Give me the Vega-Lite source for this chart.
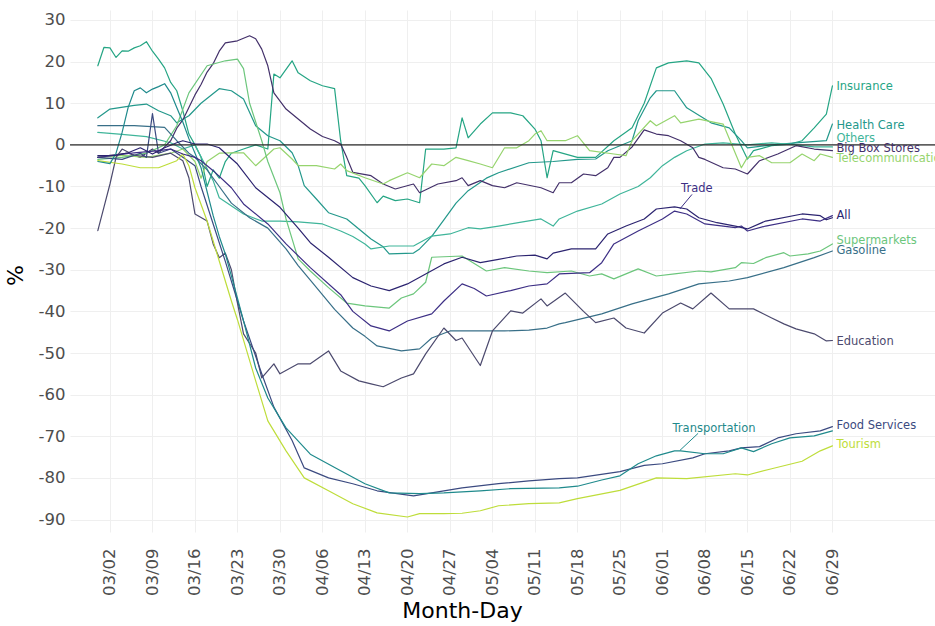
{
  "$schema": "https://vega.github.io/schema/vega-lite/v6.json",
  "width": 865,
  "height": 522,
  "autosize": {"type": "none"},
  "padding": {"left": 70, "top": 10, "right": 0, "bottom": 94},
  "background": "white",
  "config": {"font": "DejaVu Sans", "view": {"stroke": null}},
  "datasets": {
    "series": [
      {"s":"Insurance","d":"2020-02-29","v":19},{"s":"Insurance","d":"2020-03-01","v":23.4},{"s":"Insurance","d":"2020-03-02","v":23.3},{"s":"Insurance","d":"2020-03-03","v":21},{"s":"Insurance","d":"2020-03-04","v":22.6},{"s":"Insurance","d":"2020-03-05","v":22.5},{"s":"Insurance","d":"2020-03-06","v":23.3},{"s":"Insurance","d":"2020-03-07","v":23.8},{"s":"Insurance","d":"2020-03-08","v":24.8},{"s":"Insurance","d":"2020-03-09","v":22.5},{"s":"Insurance","d":"2020-03-10","v":20.6},{"s":"Insurance","d":"2020-03-11","v":18.5},{"s":"Insurance","d":"2020-03-12","v":15},{"s":"Insurance","d":"2020-03-13","v":13},{"s":"Insurance","d":"2020-03-14","v":8.2},{"s":"Insurance","d":"2020-03-15","v":2.6},{"s":"Insurance","d":"2020-03-16","v":0},{"s":"Insurance","d":"2020-03-17","v":-3},{"s":"Insurance","d":"2020-03-18","v":-10},{"s":"Insurance","d":"2020-03-19","v":-6},{"s":"Insurance","d":"2020-03-20","v":-8},{"s":"Insurance","d":"2020-03-21","v":-4},{"s":"Insurance","d":"2020-03-22","v":-2},{"s":"Insurance","d":"2020-03-24","v":-1},{"s":"Insurance","d":"2020-03-26","v":0},{"s":"Insurance","d":"2020-03-28","v":-1},{"s":"Insurance","d":"2020-03-29","v":17},{"s":"Insurance","d":"2020-03-30","v":16.1},{"s":"Insurance","d":"2020-04-01","v":20.2},{"s":"Insurance","d":"2020-04-02","v":17.3},{"s":"Insurance","d":"2020-04-04","v":15.4},{"s":"Insurance","d":"2020-04-06","v":14.2},{"s":"Insurance","d":"2020-04-08","v":13.5},{"s":"Insurance","d":"2020-04-09","v":1},{"s":"Insurance","d":"2020-04-10","v":-7.4},{"s":"Insurance","d":"2020-04-12","v":-8},{"s":"Insurance","d":"2020-04-13","v":-9.8},{"s":"Insurance","d":"2020-04-15","v":-13.9},{"s":"Insurance","d":"2020-04-16","v":-12.3},{"s":"Insurance","d":"2020-04-18","v":-13.4},{"s":"Insurance","d":"2020-04-20","v":-13},{"s":"Insurance","d":"2020-04-22","v":-13.9},{"s":"Insurance","d":"2020-04-23","v":-1},{"s":"Insurance","d":"2020-04-26","v":-1},{"s":"Insurance","d":"2020-04-28","v":-0.7},{"s":"Insurance","d":"2020-04-29","v":6.5},{"s":"Insurance","d":"2020-04-30","v":1.7},{"s":"Insurance","d":"2020-05-02","v":5},{"s":"Insurance","d":"2020-05-04","v":7.7},{"s":"Insurance","d":"2020-05-07","v":7.7},{"s":"Insurance","d":"2020-05-09","v":7},{"s":"Insurance","d":"2020-05-11","v":3.8},{"s":"Insurance","d":"2020-05-12","v":1},{"s":"Insurance","d":"2020-05-13","v":-7.9},{"s":"Insurance","d":"2020-05-14","v":-1.4},{"s":"Insurance","d":"2020-05-18","v":-3},{"s":"Insurance","d":"2020-05-21","v":-3},{"s":"Insurance","d":"2020-05-24","v":1},{"s":"Insurance","d":"2020-05-27","v":4.1},{"s":"Insurance","d":"2020-05-29","v":10},{"s":"Insurance","d":"2020-05-31","v":18.5},{"s":"Insurance","d":"2020-06-02","v":19.7},{"s":"Insurance","d":"2020-06-05","v":20.2},{"s":"Insurance","d":"2020-06-07","v":19.7},{"s":"Insurance","d":"2020-06-09","v":16},{"s":"Insurance","d":"2020-06-11","v":9.8},{"s":"Insurance","d":"2020-06-13","v":2.6},{"s":"Insurance","d":"2020-06-15","v":-3.4},{"s":"Insurance","d":"2020-06-16","v":-1.4},{"s":"Insurance","d":"2020-06-19","v":-0.2},{"s":"Insurance","d":"2020-06-22","v":0.2},{"s":"Insurance","d":"2020-06-24","v":1},{"s":"Insurance","d":"2020-06-26","v":4.1},{"s":"Insurance","d":"2020-06-28","v":7.4},{"s":"Insurance","d":"2020-06-29","v":14.2},

      {"s":"Health Care","d":"2020-02-29","v":6.5},{"s":"Health Care","d":"2020-03-02","v":8.6},{"s":"Health Care","d":"2020-03-06","v":9.5},{"s":"Health Care","d":"2020-03-08","v":9.8},{"s":"Health Care","d":"2020-03-10","v":8.2},{"s":"Health Care","d":"2020-03-12","v":7},{"s":"Health Care","d":"2020-03-13","v":5.3},{"s":"Health Care","d":"2020-03-15","v":7},{"s":"Health Care","d":"2020-03-17","v":10},{"s":"Health Care","d":"2020-03-20","v":13.5},{"s":"Health Care","d":"2020-03-22","v":13},{"s":"Health Care","d":"2020-03-24","v":11},{"s":"Health Care","d":"2020-03-26","v":4.6},{"s":"Health Care","d":"2020-03-28","v":2.2},{"s":"Health Care","d":"2020-03-30","v":1},{"s":"Health Care","d":"2020-04-01","v":-1.9},{"s":"Health Care","d":"2020-04-02","v":-5},{"s":"Health Care","d":"2020-04-03","v":-9.8},{"s":"Health Care","d":"2020-04-05","v":-13},{"s":"Health Care","d":"2020-04-07","v":-16.3},{"s":"Health Care","d":"2020-04-10","v":-17.8},{"s":"Health Care","d":"2020-04-12","v":-20.2},{"s":"Health Care","d":"2020-04-14","v":-22.6},{"s":"Health Care","d":"2020-04-16","v":-24.5},{"s":"Health Care","d":"2020-04-17","v":-26.2},{"s":"Health Care","d":"2020-04-21","v":-26},{"s":"Health Care","d":"2020-04-22","v":-25},{"s":"Health Care","d":"2020-04-24","v":-22},{"s":"Health Care","d":"2020-04-26","v":-18},{"s":"Health Care","d":"2020-04-28","v":-14},{"s":"Health Care","d":"2020-04-30","v":-11},{"s":"Health Care","d":"2020-05-03","v":-8},{"s":"Health Care","d":"2020-05-05","v":-6.7},{"s":"Health Care","d":"2020-05-10","v":-4.3},{"s":"Health Care","d":"2020-05-14","v":-4},{"s":"Health Care","d":"2020-05-18","v":-3.5},{"s":"Health Care","d":"2020-05-21","v":-3.4},{"s":"Health Care","d":"2020-05-23","v":-1.4},{"s":"Health Care","d":"2020-05-27","v":1},{"s":"Health Care","d":"2020-05-28","v":5.8},{"s":"Health Care","d":"2020-05-30","v":11.3},{"s":"Health Care","d":"2020-05-31","v":13},{"s":"Health Care","d":"2020-06-03","v":13},{"s":"Health Care","d":"2020-06-05","v":8.9},{"s":"Health Care","d":"2020-06-09","v":5.3},{"s":"Health Care","d":"2020-06-12","v":4.1},{"s":"Health Care","d":"2020-06-14","v":1},{"s":"Health Care","d":"2020-06-15","v":-0.7},{"s":"Health Care","d":"2020-06-19","v":0},{"s":"Health Care","d":"2020-06-23","v":0.5},{"s":"Health Care","d":"2020-06-28","v":1},{"s":"Health Care","d":"2020-06-29","v":5},

      {"s":"Others","d":"2020-02-29","v":3},{"s":"Others","d":"2020-03-04","v":2.5},{"s":"Others","d":"2020-03-08","v":2},{"s":"Others","d":"2020-03-12","v":0.5},{"s":"Others","d":"2020-03-14","v":-1},{"s":"Others","d":"2020-03-16","v":0},{"s":"Others","d":"2020-03-19","v":-8.6},{"s":"Others","d":"2020-03-20","v":-12.7},{"s":"Others","d":"2020-03-24","v":-16.6},{"s":"Others","d":"2020-03-27","v":-18.3},{"s":"Others","d":"2020-03-30","v":-18.3},{"s":"Others","d":"2020-04-02","v":-18.5},{"s":"Others","d":"2020-04-06","v":-19},{"s":"Others","d":"2020-04-09","v":-20.7},{"s":"Others","d":"2020-04-11","v":-22},{"s":"Others","d":"2020-04-13","v":-23.8},{"s":"Others","d":"2020-04-14","v":-25},{"s":"Others","d":"2020-04-17","v":-24.3},{"s":"Others","d":"2020-04-21","v":-24.3},{"s":"Others","d":"2020-04-24","v":-21.9},{"s":"Others","d":"2020-04-27","v":-21.4},{"s":"Others","d":"2020-04-30","v":-19.9},{"s":"Others","d":"2020-05-02","v":-20.2},{"s":"Others","d":"2020-05-05","v":-19.5},{"s":"Others","d":"2020-05-09","v":-18.5},{"s":"Others","d":"2020-05-12","v":-17.8},{"s":"Others","d":"2020-05-14","v":-19.5},{"s":"Others","d":"2020-05-15","v":-17.8},{"s":"Others","d":"2020-05-18","v":-15.9},{"s":"Others","d":"2020-05-22","v":-14.2},{"s":"Others","d":"2020-05-25","v":-11.8},{"s":"Others","d":"2020-05-28","v":-10},{"s":"Others","d":"2020-05-30","v":-7.9},{"s":"Others","d":"2020-06-01","v":-5},{"s":"Others","d":"2020-06-03","v":-3},{"s":"Others","d":"2020-06-05","v":-1.4},{"s":"Others","d":"2020-06-08","v":0.2},{"s":"Others","d":"2020-06-11","v":0.5},{"s":"Others","d":"2020-06-15","v":0},{"s":"Others","d":"2020-06-19","v":0.5},{"s":"Others","d":"2020-06-23","v":0},{"s":"Others","d":"2020-06-26","v":-0.5},{"s":"Others","d":"2020-06-29","v":-0.5},

      {"s":"Big Box Stores","d":"2020-02-29","v":-3},{"s":"Big Box Stores","d":"2020-03-02","v":-2.5},{"s":"Big Box Stores","d":"2020-03-05","v":-2},{"s":"Big Box Stores","d":"2020-03-07","v":-3},{"s":"Big Box Stores","d":"2020-03-09","v":-1},{"s":"Big Box Stores","d":"2020-03-10","v":-2},{"s":"Big Box Stores","d":"2020-03-11","v":-0.5},{"s":"Big Box Stores","d":"2020-03-12","v":1},{"s":"Big Box Stores","d":"2020-03-13","v":4},{"s":"Big Box Stores","d":"2020-03-14","v":6},{"s":"Big Box Stores","d":"2020-03-15","v":9},{"s":"Big Box Stores","d":"2020-03-16","v":12},{"s":"Big Box Stores","d":"2020-03-17","v":14.5},{"s":"Big Box Stores","d":"2020-03-18","v":17.5},{"s":"Big Box Stores","d":"2020-03-19","v":19.5},{"s":"Big Box Stores","d":"2020-03-20","v":22.5},{"s":"Big Box Stores","d":"2020-03-21","v":24.5},{"s":"Big Box Stores","d":"2020-03-23","v":25},{"s":"Big Box Stores","d":"2020-03-25","v":26.2},{"s":"Big Box Stores","d":"2020-03-26","v":25.5},{"s":"Big Box Stores","d":"2020-03-27","v":23},{"s":"Big Box Stores","d":"2020-03-28","v":19},{"s":"Big Box Stores","d":"2020-03-29","v":12.5},{"s":"Big Box Stores","d":"2020-03-31","v":8.6},{"s":"Big Box Stores","d":"2020-04-02","v":6.2},{"s":"Big Box Stores","d":"2020-04-04","v":3.8},{"s":"Big Box Stores","d":"2020-04-06","v":2},{"s":"Big Box Stores","d":"2020-04-08","v":1},{"s":"Big Box Stores","d":"2020-04-09","v":0.2},{"s":"Big Box Stores","d":"2020-04-10","v":-3},{"s":"Big Box Stores","d":"2020-04-11","v":-6.6},{"s":"Big Box Stores","d":"2020-04-14","v":-7.4},{"s":"Big Box Stores","d":"2020-04-16","v":-9.4},{"s":"Big Box Stores","d":"2020-04-18","v":-10.6},{"s":"Big Box Stores","d":"2020-04-21","v":-9.4},{"s":"Big Box Stores","d":"2020-04-22","v":-11.5},{"s":"Big Box Stores","d":"2020-04-25","v":-9.4},{"s":"Big Box Stores","d":"2020-04-28","v":-8.6},{"s":"Big Box Stores","d":"2020-04-29","v":-7.9},{"s":"Big Box Stores","d":"2020-04-30","v":-9.8},{"s":"Big Box Stores","d":"2020-05-02","v":-8.6},{"s":"Big Box Stores","d":"2020-05-04","v":-9.8},{"s":"Big Box Stores","d":"2020-05-06","v":-10.3},{"s":"Big Box Stores","d":"2020-05-08","v":-9.1},{"s":"Big Box Stores","d":"2020-05-12","v":-10.3},{"s":"Big Box Stores","d":"2020-05-14","v":-11.5},{"s":"Big Box Stores","d":"2020-05-15","v":-9.1},{"s":"Big Box Stores","d":"2020-05-17","v":-9.1},{"s":"Big Box Stores","d":"2020-05-19","v":-7},{"s":"Big Box Stores","d":"2020-05-21","v":-7.4},{"s":"Big Box Stores","d":"2020-05-23","v":-5.5},{"s":"Big Box Stores","d":"2020-05-24","v":-3},{"s":"Big Box Stores","d":"2020-05-25","v":-3},{"s":"Big Box Stores","d":"2020-05-27","v":-0.5},{"s":"Big Box Stores","d":"2020-05-29","v":3.6},{"s":"Big Box Stores","d":"2020-05-31","v":2.6},{"s":"Big Box Stores","d":"2020-06-02","v":2.2},{"s":"Big Box Stores","d":"2020-06-04","v":1},{"s":"Big Box Stores","d":"2020-06-06","v":-0.7},{"s":"Big Box Stores","d":"2020-06-07","v":-3},{"s":"Big Box Stores","d":"2020-06-08","v":-3.5},{"s":"Big Box Stores","d":"2020-06-11","v":-5.5},{"s":"Big Box Stores","d":"2020-06-13","v":-5.8},{"s":"Big Box Stores","d":"2020-06-15","v":-7},{"s":"Big Box Stores","d":"2020-06-17","v":-3.8},{"s":"Big Box Stores","d":"2020-06-20","v":-2.2},{"s":"Big Box Stores","d":"2020-06-23","v":-0.2},{"s":"Big Box Stores","d":"2020-06-26","v":-1},{"s":"Big Box Stores","d":"2020-06-29","v":-1.4},

      {"s":"Telecommunications","d":"2020-02-29","v":-3},{"s":"Telecommunications","d":"2020-03-04","v":-2.5},{"s":"Telecommunications","d":"2020-03-08","v":-3},{"s":"Telecommunications","d":"2020-03-12","v":-2},{"s":"Telecommunications","d":"2020-03-14","v":-1},{"s":"Telecommunications","d":"2020-03-16","v":-4},{"s":"Telecommunications","d":"2020-03-17","v":-8},{"s":"Telecommunications","d":"2020-03-18","v":-4},{"s":"Telecommunications","d":"2020-03-20","v":-2},{"s":"Telecommunications","d":"2020-03-22","v":-1.9},{"s":"Telecommunications","d":"2020-03-24","v":-1.9},{"s":"Telecommunications","d":"2020-03-26","v":-5},{"s":"Telecommunications","d":"2020-03-29","v":-1},{"s":"Telecommunications","d":"2020-03-30","v":-0.7},{"s":"Telecommunications","d":"2020-04-01","v":-3.4},{"s":"Telecommunications","d":"2020-04-02","v":-5},{"s":"Telecommunications","d":"2020-04-05","v":-5},{"s":"Telecommunications","d":"2020-04-08","v":-5.8},{"s":"Telecommunications","d":"2020-04-09","v":-4.6},{"s":"Telecommunications","d":"2020-04-10","v":-6.2},{"s":"Telecommunications","d":"2020-04-13","v":-7.9},{"s":"Telecommunications","d":"2020-04-16","v":-9.4},{"s":"Telecommunications","d":"2020-04-17","v":-8.6},{"s":"Telecommunications","d":"2020-04-20","v":-6.7},{"s":"Telecommunications","d":"2020-04-22","v":-7.9},{"s":"Telecommunications","d":"2020-04-24","v":-4.6},{"s":"Telecommunications","d":"2020-04-26","v":-5},{"s":"Telecommunications","d":"2020-04-28","v":-3},{"s":"Telecommunications","d":"2020-04-30","v":-3.8},{"s":"Telecommunications","d":"2020-05-02","v":-4.6},{"s":"Telecommunications","d":"2020-05-04","v":-5.5},{"s":"Telecommunications","d":"2020-05-06","v":-0.7},{"s":"Telecommunications","d":"2020-05-08","v":-0.7},{"s":"Telecommunications","d":"2020-05-10","v":1},{"s":"Telecommunications","d":"2020-05-11","v":2.6},{"s":"Telecommunications","d":"2020-05-12","v":3.4},{"s":"Telecommunications","d":"2020-05-13","v":1},{"s":"Telecommunications","d":"2020-05-16","v":1},{"s":"Telecommunications","d":"2020-05-18","v":2.2},{"s":"Telecommunications","d":"2020-05-20","v":-1.4},{"s":"Telecommunications","d":"2020-05-24","v":-2.2},{"s":"Telecommunications","d":"2020-05-26","v":-2.6},{"s":"Telecommunications","d":"2020-05-27","v":1},{"s":"Telecommunications","d":"2020-05-30","v":5.8},{"s":"Telecommunications","d":"2020-05-31","v":4.6},{"s":"Telecommunications","d":"2020-06-03","v":7},{"s":"Telecommunications","d":"2020-06-04","v":5.3},{"s":"Telecommunications","d":"2020-06-07","v":6.2},{"s":"Telecommunications","d":"2020-06-11","v":5},{"s":"Telecommunications","d":"2020-06-14","v":-5.5},{"s":"Telecommunications","d":"2020-06-15","v":-3},{"s":"Telecommunications","d":"2020-06-17","v":-2.6},{"s":"Telecommunications","d":"2020-06-19","v":-4.3},{"s":"Telecommunications","d":"2020-06-22","v":-4.3},{"s":"Telecommunications","d":"2020-06-24","v":-2.2},{"s":"Telecommunications","d":"2020-06-26","v":-3.8},{"s":"Telecommunications","d":"2020-06-27","v":-2.2},{"s":"Telecommunications","d":"2020-06-29","v":-3},

      {"s":"Supermarkets","d":"2020-02-29","v":-3.5},{"s":"Supermarkets","d":"2020-03-04","v":-3},{"s":"Supermarkets","d":"2020-03-08","v":-2},{"s":"Supermarkets","d":"2020-03-11","v":0},{"s":"Supermarkets","d":"2020-03-13","v":4.6},{"s":"Supermarkets","d":"2020-03-15","v":12.5},{"s":"Supermarkets","d":"2020-03-18","v":19},{"s":"Supermarkets","d":"2020-03-21","v":20.2},{"s":"Supermarkets","d":"2020-03-23","v":20.6},{"s":"Supermarkets","d":"2020-03-24","v":18.3},{"s":"Supermarkets","d":"2020-03-25","v":10},{"s":"Supermarkets","d":"2020-03-27","v":1},{"s":"Supermarkets","d":"2020-03-28","v":-4},{"s":"Supermarkets","d":"2020-03-30","v":-11.5},{"s":"Supermarkets","d":"2020-03-31","v":-17.8},{"s":"Supermarkets","d":"2020-04-01","v":-22.6},{"s":"Supermarkets","d":"2020-04-02","v":-27.4},{"s":"Supermarkets","d":"2020-04-04","v":-30.3},{"s":"Supermarkets","d":"2020-04-07","v":-34.3},{"s":"Supermarkets","d":"2020-04-10","v":-38},{"s":"Supermarkets","d":"2020-04-13","v":-38.7},{"s":"Supermarkets","d":"2020-04-17","v":-39.2},{"s":"Supermarkets","d":"2020-04-19","v":-36.8},{"s":"Supermarkets","d":"2020-04-21","v":-35.8},{"s":"Supermarkets","d":"2020-04-23","v":-33},{"s":"Supermarkets","d":"2020-04-24","v":-27},{"s":"Supermarkets","d":"2020-04-29","v":-26.7},{"s":"Supermarkets","d":"2020-05-03","v":-30.3},{"s":"Supermarkets","d":"2020-05-06","v":-29.5},{"s":"Supermarkets","d":"2020-05-10","v":-30.3},{"s":"Supermarkets","d":"2020-05-13","v":-30.7},{"s":"Supermarkets","d":"2020-05-17","v":-30.3},{"s":"Supermarkets","d":"2020-05-20","v":-31.5},{"s":"Supermarkets","d":"2020-05-22","v":-31},{"s":"Supermarkets","d":"2020-05-24","v":-32.2},{"s":"Supermarkets","d":"2020-05-28","v":-29.8},{"s":"Supermarkets","d":"2020-05-31","v":-31.5},{"s":"Supermarkets","d":"2020-06-03","v":-31},{"s":"Supermarkets","d":"2020-06-07","v":-30.3},{"s":"Supermarkets","d":"2020-06-09","v":-30.5},{"s":"Supermarkets","d":"2020-06-13","v":-29.5},{"s":"Supermarkets","d":"2020-06-14","v":-28.3},{"s":"Supermarkets","d":"2020-06-16","v":-28.5},{"s":"Supermarkets","d":"2020-06-18","v":-27.1},{"s":"Supermarkets","d":"2020-06-21","v":-25.9},{"s":"Supermarkets","d":"2020-06-22","v":-26.7},{"s":"Supermarkets","d":"2020-06-25","v":-26.2},{"s":"Supermarkets","d":"2020-06-27","v":-25.5},{"s":"Supermarkets","d":"2020-06-29","v":-23.8},

      {"s":"Gasoline","d":"2020-02-29","v":4.6},{"s":"Gasoline","d":"2020-03-06","v":4.6},{"s":"Gasoline","d":"2020-03-11","v":4.2},{"s":"Gasoline","d":"2020-03-13","v":1},{"s":"Gasoline","d":"2020-03-15","v":-2},{"s":"Gasoline","d":"2020-03-16","v":-3},{"s":"Gasoline","d":"2020-03-18","v":-6},{"s":"Gasoline","d":"2020-03-20","v":-10},{"s":"Gasoline","d":"2020-03-22","v":-14},{"s":"Gasoline","d":"2020-03-25","v":-17.5},{"s":"Gasoline","d":"2020-03-28","v":-20},{"s":"Gasoline","d":"2020-03-31","v":-25},{"s":"Gasoline","d":"2020-04-02","v":-29},{"s":"Gasoline","d":"2020-04-04","v":-32.5},{"s":"Gasoline","d":"2020-04-08","v":-39.5},{"s":"Gasoline","d":"2020-04-11","v":-44},{"s":"Gasoline","d":"2020-04-13","v":-46},{"s":"Gasoline","d":"2020-04-15","v":-48.3},{"s":"Gasoline","d":"2020-04-19","v":-49.5},{"s":"Gasoline","d":"2020-04-22","v":-49},{"s":"Gasoline","d":"2020-04-24","v":-46.4},{"s":"Gasoline","d":"2020-04-27","v":-44.7},{"s":"Gasoline","d":"2020-05-02","v":-44.7},{"s":"Gasoline","d":"2020-05-06","v":-44.7},{"s":"Gasoline","d":"2020-05-10","v":-44.5},{"s":"Gasoline","d":"2020-05-13","v":-44},{"s":"Gasoline","d":"2020-05-15","v":-43},{"s":"Gasoline","d":"2020-05-16","v":-42.7},{"s":"Gasoline","d":"2020-05-22","v":-40.6},{"s":"Gasoline","d":"2020-05-27","v":-38.2},{"s":"Gasoline","d":"2020-06-02","v":-35.8},{"s":"Gasoline","d":"2020-06-07","v":-33.4},{"s":"Gasoline","d":"2020-06-12","v":-32.7},{"s":"Gasoline","d":"2020-06-15","v":-31.9},{"s":"Gasoline","d":"2020-06-21","v":-29.5},{"s":"Gasoline","d":"2020-06-26","v":-27.1},{"s":"Gasoline","d":"2020-06-29","v":-25.5},

      {"s":"Education","d":"2020-02-29","v":-20.6},{"s":"Education","d":"2020-03-01","v":-15},{"s":"Education","d":"2020-03-02","v":-9.4},{"s":"Education","d":"2020-03-03","v":-3},{"s":"Education","d":"2020-03-04","v":-1},{"s":"Education","d":"2020-03-06","v":-2.5},{"s":"Education","d":"2020-03-09","v":-3},{"s":"Education","d":"2020-03-12","v":-2},{"s":"Education","d":"2020-03-14","v":-3.8},{"s":"Education","d":"2020-03-15","v":-7.9},{"s":"Education","d":"2020-03-16","v":-16.6},{"s":"Education","d":"2020-03-18","v":-18.3},{"s":"Education","d":"2020-03-19","v":-23.8},{"s":"Education","d":"2020-03-20","v":-27.1},{"s":"Education","d":"2020-03-21","v":-26},{"s":"Education","d":"2020-03-22","v":-30},{"s":"Education","d":"2020-03-23","v":-38},{"s":"Education","d":"2020-03-24","v":-45.4},{"s":"Education","d":"2020-03-26","v":-50},{"s":"Education","d":"2020-03-27","v":-56},{"s":"Education","d":"2020-03-29","v":-52.6},{"s":"Education","d":"2020-03-30","v":-55},{"s":"Education","d":"2020-04-02","v":-52.6},{"s":"Education","d":"2020-04-04","v":-52.6},{"s":"Education","d":"2020-04-07","v":-49.5},{"s":"Education","d":"2020-04-09","v":-54.3},{"s":"Education","d":"2020-04-12","v":-56.7},{"s":"Education","d":"2020-04-14","v":-57.4},{"s":"Education","d":"2020-04-16","v":-58.1},{"s":"Education","d":"2020-04-19","v":-56},{"s":"Education","d":"2020-04-21","v":-55},{"s":"Education","d":"2020-04-23","v":-50.2},{"s":"Education","d":"2020-04-26","v":-44},{"s":"Education","d":"2020-04-28","v":-47},{"s":"Education","d":"2020-04-29","v":-46.4},{"s":"Education","d":"2020-05-02","v":-53},{"s":"Education","d":"2020-05-04","v":-44.7},{"s":"Education","d":"2020-05-07","v":-39.9},{"s":"Education","d":"2020-05-09","v":-40.4},{"s":"Education","d":"2020-05-12","v":-37},{"s":"Education","d":"2020-05-13","v":-38.7},{"s":"Education","d":"2020-05-16","v":-35.6},{"s":"Education","d":"2020-05-19","v":-40},{"s":"Education","d":"2020-05-21","v":-42.7},{"s":"Education","d":"2020-05-24","v":-41.6},{"s":"Education","d":"2020-05-26","v":-44},{"s":"Education","d":"2020-05-29","v":-45.2},{"s":"Education","d":"2020-06-01","v":-40.4},{"s":"Education","d":"2020-06-04","v":-38},{"s":"Education","d":"2020-06-06","v":-39.4},{"s":"Education","d":"2020-06-09","v":-35.6},{"s":"Education","d":"2020-06-12","v":-39.4},{"s":"Education","d":"2020-06-16","v":-39.4},{"s":"Education","d":"2020-06-19","v":-41.6},{"s":"Education","d":"2020-06-21","v":-43},{"s":"Education","d":"2020-06-23","v":-44.2},{"s":"Education","d":"2020-06-26","v":-45.4},{"s":"Education","d":"2020-06-28","v":-47.1},{"s":"Education","d":"2020-06-29","v":-47},

      {"s":"Food Services","d":"2020-02-29","v":-3},{"s":"Food Services","d":"2020-03-04","v":-3.5},{"s":"Food Services","d":"2020-03-07","v":-2},{"s":"Food Services","d":"2020-03-08","v":-3},{"s":"Food Services","d":"2020-03-09","v":7.5},{"s":"Food Services","d":"2020-03-10","v":-2},{"s":"Food Services","d":"2020-03-12","v":-1},{"s":"Food Services","d":"2020-03-14","v":-3},{"s":"Food Services","d":"2020-03-16","v":-5},{"s":"Food Services","d":"2020-03-17","v":-10},{"s":"Food Services","d":"2020-03-19","v":-19},{"s":"Food Services","d":"2020-03-21","v":-28},{"s":"Food Services","d":"2020-03-23","v":-37.5},{"s":"Food Services","d":"2020-03-24","v":-42.3},{"s":"Food Services","d":"2020-03-27","v":-55},{"s":"Food Services","d":"2020-03-29","v":-63},{"s":"Food Services","d":"2020-04-01","v":-71},{"s":"Food Services","d":"2020-04-03","v":-77.6},{"s":"Food Services","d":"2020-04-07","v":-80},{"s":"Food Services","d":"2020-04-11","v":-81.4},{"s":"Food Services","d":"2020-04-15","v":-83.1},{"s":"Food Services","d":"2020-04-21","v":-84.3},{"s":"Food Services","d":"2020-04-24","v":-83.6},{"s":"Food Services","d":"2020-04-29","v":-82.4},{"s":"Food Services","d":"2020-05-05","v":-81.4},{"s":"Food Services","d":"2020-05-10","v":-80.7},{"s":"Food Services","d":"2020-05-15","v":-80.2},{"s":"Food Services","d":"2020-05-18","v":-80},{"s":"Food Services","d":"2020-05-25","v":-78.5},{"s":"Food Services","d":"2020-05-29","v":-77},{"s":"Food Services","d":"2020-06-01","v":-76.6},{"s":"Food Services","d":"2020-06-06","v":-75.2},{"s":"Food Services","d":"2020-06-08","v":-74.2},{"s":"Food Services","d":"2020-06-12","v":-73.5},{"s":"Food Services","d":"2020-06-14","v":-72.8},{"s":"Food Services","d":"2020-06-17","v":-72.5},{"s":"Food Services","d":"2020-06-20","v":-70.4},{"s":"Food Services","d":"2020-06-23","v":-69.4},{"s":"Food Services","d":"2020-06-27","v":-68.7},{"s":"Food Services","d":"2020-06-29","v":-67.7},

      {"s":"Tourism","d":"2020-02-29","v":-3.8},{"s":"Tourism","d":"2020-03-04","v":-4.6},{"s":"Tourism","d":"2020-03-07","v":-5.5},{"s":"Tourism","d":"2020-03-10","v":-5.5},{"s":"Tourism","d":"2020-03-13","v":-3.8},{"s":"Tourism","d":"2020-03-14","v":-2.2},{"s":"Tourism","d":"2020-03-15","v":-5},{"s":"Tourism","d":"2020-03-16","v":-10.3},{"s":"Tourism","d":"2020-03-18","v":-18.3},{"s":"Tourism","d":"2020-03-20","v":-27.9},{"s":"Tourism","d":"2020-03-22","v":-37.5},{"s":"Tourism","d":"2020-03-23","v":-42},{"s":"Tourism","d":"2020-03-26","v":-56.7},{"s":"Tourism","d":"2020-03-28","v":-66.3},{"s":"Tourism","d":"2020-03-31","v":-73.5},{"s":"Tourism","d":"2020-04-03","v":-80},{"s":"Tourism","d":"2020-04-07","v":-83.1},{"s":"Tourism","d":"2020-04-11","v":-86.2},{"s":"Tourism","d":"2020-04-15","v":-88.4},{"s":"Tourism","d":"2020-04-20","v":-89.4},{"s":"Tourism","d":"2020-04-22","v":-88.6},{"s":"Tourism","d":"2020-04-26","v":-88.6},{"s":"Tourism","d":"2020-04-29","v":-88.5},{"s":"Tourism","d":"2020-05-02","v":-87.9},{"s":"Tourism","d":"2020-05-05","v":-86.7},{"s":"Tourism","d":"2020-05-10","v":-86.2},{"s":"Tourism","d":"2020-05-15","v":-86},{"s":"Tourism","d":"2020-05-18","v":-85},{"s":"Tourism","d":"2020-05-25","v":-83},{"s":"Tourism","d":"2020-05-31","v":-80},{"s":"Tourism","d":"2020-06-05","v":-80.2},{"s":"Tourism","d":"2020-06-13","v":-79},{"s":"Tourism","d":"2020-06-15","v":-79.3},{"s":"Tourism","d":"2020-06-19","v":-77.8},{"s":"Tourism","d":"2020-06-24","v":-76},{"s":"Tourism","d":"2020-06-27","v":-73.5},{"s":"Tourism","d":"2020-06-29","v":-72.3},

      {"s":"Transportation","d":"2020-02-29","v":-4},{"s":"Transportation","d":"2020-03-02","v":-4.5},{"s":"Transportation","d":"2020-03-03","v":-2},{"s":"Transportation","d":"2020-03-04","v":3},{"s":"Transportation","d":"2020-03-05","v":9},{"s":"Transportation","d":"2020-03-06","v":13},{"s":"Transportation","d":"2020-03-07","v":13.7},{"s":"Transportation","d":"2020-03-08","v":12.5},{"s":"Transportation","d":"2020-03-09","v":13.4},{"s":"Transportation","d":"2020-03-10","v":14},{"s":"Transportation","d":"2020-03-11","v":14.7},{"s":"Transportation","d":"2020-03-12","v":12.5},{"s":"Transportation","d":"2020-03-13","v":9},{"s":"Transportation","d":"2020-03-14","v":5.5},{"s":"Transportation","d":"2020-03-15","v":1.5},{"s":"Transportation","d":"2020-03-17","v":-5.5},{"s":"Transportation","d":"2020-03-19","v":-17},{"s":"Transportation","d":"2020-03-20","v":-22},{"s":"Transportation","d":"2020-03-21","v":-26.2},{"s":"Transportation","d":"2020-03-23","v":-36.8},{"s":"Transportation","d":"2020-03-24","v":-42.3},{"s":"Transportation","d":"2020-03-26","v":-53.6},{"s":"Transportation","d":"2020-03-28","v":-60.8},{"s":"Transportation","d":"2020-03-31","v":-68},{"s":"Transportation","d":"2020-04-04","v":-74.3},{"s":"Transportation","d":"2020-04-09","v":-78.3},{"s":"Transportation","d":"2020-04-13","v":-81.4},{"s":"Transportation","d":"2020-04-17","v":-83.6},{"s":"Transportation","d":"2020-04-22","v":-83.8},{"s":"Transportation","d":"2020-04-26","v":-83.6},{"s":"Transportation","d":"2020-05-02","v":-83.1},{"s":"Transportation","d":"2020-05-07","v":-82.6},{"s":"Transportation","d":"2020-05-15","v":-82.4},{"s":"Transportation","d":"2020-05-18","v":-82},{"s":"Transportation","d":"2020-05-22","v":-80.5},{"s":"Transportation","d":"2020-05-25","v":-79.5},{"s":"Transportation","d":"2020-05-28","v":-76.6},{"s":"Transportation","d":"2020-05-31","v":-74.7},{"s":"Transportation","d":"2020-06-03","v":-73.5},{"s":"Transportation","d":"2020-06-04","v":-73.5},{"s":"Transportation","d":"2020-06-08","v":-74.2},{"s":"Transportation","d":"2020-06-11","v":-74.2},{"s":"Transportation","d":"2020-06-14","v":-72.8},{"s":"Transportation","d":"2020-06-16","v":-73.7},{"s":"Transportation","d":"2020-06-19","v":-71.8},{"s":"Transportation","d":"2020-06-22","v":-70.4},{"s":"Transportation","d":"2020-06-26","v":-69.9},{"s":"Transportation","d":"2020-06-29","v":-68.7},

      {"s":"Trade","d":"2020-02-29","v":-3},{"s":"Trade","d":"2020-03-03","v":-2.5},{"s":"Trade","d":"2020-03-06","v":-1.9},{"s":"Trade","d":"2020-03-10","v":-1.4},{"s":"Trade","d":"2020-03-12","v":-1},{"s":"Trade","d":"2020-03-14","v":-2.2},{"s":"Trade","d":"2020-03-16","v":-3},{"s":"Trade","d":"2020-03-17","v":-3.8},{"s":"Trade","d":"2020-03-19","v":-6.2},{"s":"Trade","d":"2020-03-22","v":-10.3},{"s":"Trade","d":"2020-03-24","v":-14.2},{"s":"Trade","d":"2020-03-28","v":-19},{"s":"Trade","d":"2020-03-31","v":-23.8},{"s":"Trade","d":"2020-04-04","v":-29.5},{"s":"Trade","d":"2020-04-09","v":-36},{"s":"Trade","d":"2020-04-11","v":-40},{"s":"Trade","d":"2020-04-14","v":-43.5},{"s":"Trade","d":"2020-04-17","v":-44.7},{"s":"Trade","d":"2020-04-20","v":-42.3},{"s":"Trade","d":"2020-04-24","v":-40.6},{"s":"Trade","d":"2020-04-26","v":-37.5},{"s":"Trade","d":"2020-04-29","v":-33.4},{"s":"Trade","d":"2020-05-01","v":-34.5},{"s":"Trade","d":"2020-05-03","v":-36.3},{"s":"Trade","d":"2020-05-07","v":-35},{"s":"Trade","d":"2020-05-10","v":-33.9},{"s":"Trade","d":"2020-05-13","v":-33.4},{"s":"Trade","d":"2020-05-15","v":-31},{"s":"Trade","d":"2020-05-20","v":-30.7},{"s":"Trade","d":"2020-05-22","v":-28.3},{"s":"Trade","d":"2020-05-24","v":-23.8},{"s":"Trade","d":"2020-05-28","v":-20.7},{"s":"Trade","d":"2020-06-01","v":-17.8},{"s":"Trade","d":"2020-06-03","v":-15.9},{"s":"Trade","d":"2020-06-05","v":-16.6},{"s":"Trade","d":"2020-06-08","v":-19},{"s":"Trade","d":"2020-06-13","v":-19.9},{"s":"Trade","d":"2020-06-14","v":-19.5},{"s":"Trade","d":"2020-06-15","v":-20.7},{"s":"Trade","d":"2020-06-18","v":-19.5},{"s":"Trade","d":"2020-06-24","v":-17.8},{"s":"Trade","d":"2020-06-27","v":-18.3},{"s":"Trade","d":"2020-06-29","v":-17},

      {"s":"All","d":"2020-02-29","v":-2.6},{"s":"All","d":"2020-03-03","v":-2.5},{"s":"All","d":"2020-03-05","v":-1.9},{"s":"All","d":"2020-03-07","v":-0.7},{"s":"All","d":"2020-03-09","v":-2.2},{"s":"All","d":"2020-03-11","v":-0.7},{"s":"All","d":"2020-03-13","v":0.5},{"s":"All","d":"2020-03-14","v":1},{"s":"All","d":"2020-03-16","v":0.2},{"s":"All","d":"2020-03-18","v":0.2},{"s":"All","d":"2020-03-20","v":-0.7},{"s":"All","d":"2020-03-23","v":-4.6},{"s":"All","d":"2020-03-26","v":-10.3},{"s":"All","d":"2020-03-30","v":-15},{"s":"All","d":"2020-04-02","v":-20},{"s":"All","d":"2020-04-04","v":-23.5},{"s":"All","d":"2020-04-07","v":-27},{"s":"All","d":"2020-04-11","v":-31.9},{"s":"All","d":"2020-04-14","v":-33.9},{"s":"All","d":"2020-04-17","v":-35},{"s":"All","d":"2020-04-20","v":-33.4},{"s":"All","d":"2020-04-23","v":-31},{"s":"All","d":"2020-04-26","v":-28.6},{"s":"All","d":"2020-04-29","v":-27},{"s":"All","d":"2020-05-02","v":-28.3},{"s":"All","d":"2020-05-05","v":-27.5},{"s":"All","d":"2020-05-08","v":-26.7},{"s":"All","d":"2020-05-11","v":-26.5},{"s":"All","d":"2020-05-13","v":-27.4},{"s":"All","d":"2020-05-14","v":-26},{"s":"All","d":"2020-05-17","v":-25},{"s":"All","d":"2020-05-21","v":-25},{"s":"All","d":"2020-05-23","v":-21.4},{"s":"All","d":"2020-05-26","v":-19.5},{"s":"All","d":"2020-05-29","v":-17.8},{"s":"All","d":"2020-05-31","v":-15.4},{"s":"All","d":"2020-06-03","v":-14.9},{"s":"All","d":"2020-06-05","v":-15.4},{"s":"All","d":"2020-06-07","v":-17.5},{"s":"All","d":"2020-06-10","v":-18.7},{"s":"All","d":"2020-06-13","v":-19.5},{"s":"All","d":"2020-06-15","v":-20.2},{"s":"All","d":"2020-06-18","v":-18.3},{"s":"All","d":"2020-06-24","v":-16.6},{"s":"All","d":"2020-06-27","v":-17},{"s":"All","d":"2020-06-28","v":-18},{"s":"All","d":"2020-06-29","v":-17.5}
    ],
    "labels": [
      {"s":"Insurance","t":"Insurance","d":"2020-06-29","v":13.9},
      {"s":"Health Care","t":"Health Care","d":"2020-06-29","v":4.6},
      {"s":"Others","t":"Others","d":"2020-06-29","v":1.4},
      {"s":"Big Box Stores","t":"Big Box Stores","d":"2020-06-29","v":-1.1},
      {"s":"Telecommunications","t":"Telecommunications","d":"2020-06-29","v":-3.5},
      {"s":"All","t":"All","d":"2020-06-29","v":-17.1},
      {"s":"Supermarkets","t":"Supermarkets","d":"2020-06-29","v":-23.1},
      {"s":"Gasoline","t":"Gasoline","d":"2020-06-29","v":-25.5},
      {"s":"Education","t":"Education","d":"2020-06-29","v":-47.3},
      {"s":"Food Services","t":"Food Services","d":"2020-06-29","v":-67.5},
      {"s":"Tourism","t":"Tourism","d":"2020-06-29","v":-72},
      {"s":"Trade","t":"Trade","d":"2020-06-06T16:00:00Z","v":-10.6},
      {"s":"Transportation","t":"Transportation","d":"2020-06-09T12:00:00Z","v":-68.2}
    ],
    "leaders": [
      {"s":"Trade","d":"2020-06-05T21:00:00Z","v":-11.9,"d2":"2020-06-03T21:00:00Z","v2":-15.4},
      {"s":"Transportation","d":"2020-06-06T21:00:00Z","v":-69.3,"d2":"2020-06-03T21:00:00Z","v2":-73.4}
    ]
  },
  "layer": [
    {
      "data": {"name": "series"},
      "mark": {"type": "line", "strokeJoin": "round", "strokeCap": "round"},
      "encoding": {
        "x": {
          "field": "d",
          "type": "temporal",
          "scale": {
            "type": "utc",
            "domain": [
              {"year": 2020, "month": 2, "date": 24, "hours": 10, "utc": true},
              {"year": 2020, "month": 7, "date": 15, "hours": 21, "minutes": 30, "utc": true}
            ]
          },
          "axis": {
            "values": [
              {"year": 2020, "month": 3, "date": 2, "utc": true},
              {"year": 2020, "month": 3, "date": 9, "utc": true},
              {"year": 2020, "month": 3, "date": 16, "utc": true},
              {"year": 2020, "month": 3, "date": 23, "utc": true},
              {"year": 2020, "month": 3, "date": 30, "utc": true},
              {"year": 2020, "month": 4, "date": 6, "utc": true},
              {"year": 2020, "month": 4, "date": 13, "utc": true},
              {"year": 2020, "month": 4, "date": 20, "utc": true},
              {"year": 2020, "month": 4, "date": 27, "utc": true},
              {"year": 2020, "month": 5, "date": 4, "utc": true},
              {"year": 2020, "month": 5, "date": 11, "utc": true},
              {"year": 2020, "month": 5, "date": 18, "utc": true},
              {"year": 2020, "month": 5, "date": 25, "utc": true},
              {"year": 2020, "month": 6, "date": 1, "utc": true},
              {"year": 2020, "month": 6, "date": 8, "utc": true},
              {"year": 2020, "month": 6, "date": 15, "utc": true},
              {"year": 2020, "month": 6, "date": 22, "utc": true},
              {"year": 2020, "month": 6, "date": 29, "utc": true}
            ],
            "format": "%m/%d",
            "labelAngle": 270,
            "labelFontSize": 16.5,
            "labelColor": "#4d4d4d",
            "labelPadding": 16,
            "labelFlush": false,
            "labelOverlap": false,
            "ticks": false,
            "domain": false,
            "grid": true,
            "gridColor": "#efefef",
            "title": "Month-Day",
            "titleFontSize": 22,
            "titleFontWeight": "normal",
            "titleColor": "#000000",
            "titleX": 392,
            "titleY": 85,
            "titleAlign": "center",
            "titleBaseline": "alphabetic"
          }
        },
        "y": {
          "field": "v",
          "type": "quantitative",
          "scale": {"domain": [-93, 32.4], "nice": false, "zero": false},
          "axis": {
            "values": [-90, -80, -70, -60, -50, -40, -30, -20, -10, 0, 10, 20, 30],
            "labelExpr": "'' + datum.value",
            "labelFontSize": 16.5,
            "labelColor": "#4d4d4d",
            "labelPadding": 5,
            "labelFlush": false,
            "ticks": false,
            "domain": false,
            "grid": true,
            "gridColor": "#efefef",
            "title": "%",
            "titleFontSize": 22,
            "titleFontWeight": "normal",
            "titleColor": "#000000",
            "titleAngle": 270,
            "titleX": -55,
            "titleY": 265,
            "titleAlign": "center",
            "titleBaseline": "middle"
          }
        },
        "color": {
          "field": "s",
          "type": "nominal",
          "legend": null,
          "scale": {
            "domain": ["Insurance", "Health Care", "Others", "Big Box Stores", "Telecommunications", "Supermarkets", "Gasoline", "Education", "Food Services", "Tourism", "Transportation", "Trade", "All"],
            "range": ["#25a584", "#23988b", "#3fb59a", "#43306a", "#96d46e", "#6cc67c", "#386f88", "#4c4a6e", "#3b4a80", "#bedd3a", "#1f8a8c", "#3d2f85", "#2c2470"]
          }
        },
        "strokeWidth": {
          "field": "s",
          "type": "nominal",
          "legend": null,
          "scale": {
            "domain": ["Insurance", "Health Care", "Others", "Big Box Stores", "Telecommunications", "Supermarkets", "Gasoline", "Education", "Food Services", "Tourism", "Transportation", "Trade", "All"],
            "range": [1.2, 1.2, 1.2, 1.2, 1.2, 1.2, 1.2, 1.2, 1.3, 1.3, 2, 2.2, 3]
          }
        }
      }
    },
    {
      "data": {"values": [{}]},
      "mark": {"type": "rule", "color": "#2a2a2a", "strokeWidth": 1.2},
      "encoding": {"y": {"datum": 0, "type": "quantitative"}}
    },
    {
      "data": {"name": "leaders"},
      "mark": {"type": "rule", "strokeWidth": 1},
      "encoding": {
        "x": {"field": "d", "type": "temporal"},
        "x2": {"field": "d2"},
        "y": {"field": "v", "type": "quantitative"},
        "y2": {"field": "v2"},
        "color": {"field": "s", "type": "nominal", "legend": null}
      }
    },
    {
      "data": {"name": "labels"},
      "transform": [{"filter": "datum.s !== 'Trade' && datum.s !== 'Transportation'"}],
      "mark": {"type": "text", "align": "left", "baseline": "middle", "dx": 4, "fontSize": 11.5, "clip": true},
      "encoding": {
        "x": {"field": "d", "type": "temporal"},
        "y": {"field": "v", "type": "quantitative"},
        "text": {"field": "t"},
        "color": {"field": "s", "type": "nominal", "legend": null}
      }
    },
    {
      "data": {"name": "labels"},
      "transform": [{"filter": "datum.s === 'Trade' || datum.s === 'Transportation'"}],
      "mark": {"type": "text", "align": "center", "baseline": "middle", "fontSize": 11.5},
      "encoding": {
        "x": {"field": "d", "type": "temporal"},
        "y": {"field": "v", "type": "quantitative"},
        "text": {"field": "t"},
        "color": {"field": "s", "type": "nominal", "legend": null}
      }
    }
  ]
}
